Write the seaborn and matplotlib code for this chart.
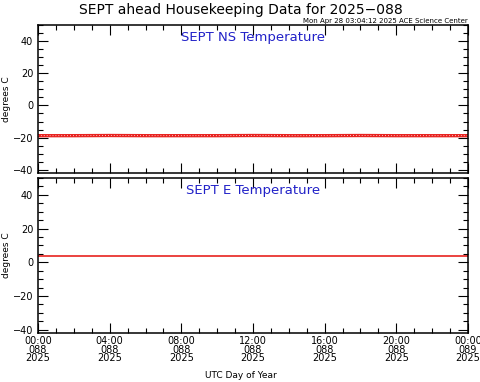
import matplotlib
matplotlib.use("Agg")
import matplotlib.pyplot as plt
import pandas as pd
import seaborn as sns
from matplotlib.ticker import MultipleLocator

# hours since 2025-088 00:00 UTC
hours = [0, 2, 4, 6, 8, 10, 12, 14, 16, 18, 20, 22, 24]
ns_temp = [-18.8, -18.8, -18.7, -18.8, -18.8, -18.8, -18.7, -18.8, -18.8, -18.7, -18.8, -18.8, -18.8]
e_temp = [3.5, 3.5, 3.5, 3.5, 3.5, 3.5, 3.5, 3.5, 3.5, 3.5, 3.5, 3.5, 3.5]

tick_hours = [0, 4, 8, 12, 16, 20, 24]
tick_labels = ["00:00\n088\n2025", "04:00\n088\n2025", "08:00\n088\n2025",
               "12:00\n088\n2025", "16:00\n088\n2025", "20:00\n088\n2025",
               "00:00\n089\n2025"]

panels = [("SEPT NS Temperature", ns_temp, 2.4), ("SEPT E Temperature", e_temp, 1.2)]

sns.set_style("ticks")
plt.rcParams["font.family"] = ["DejaVu Sans"]
plt.rcParams["text.color"] = "black"
plt.rcParams["axes.labelcolor"] = "black"

fig = plt.figure(figsize=(4.81, 3.82), dpi=100)
W, H = 481, 382
boxes = [(38, 25, 468, 173), (38, 178, 468, 333)]

for (title, vals, lw), (x0, y0, x1, y1) in zip(panels, boxes):
    ax = fig.add_axes([x0 / W, 1 - y1 / H, (x1 - x0) / W, (y1 - y0) / H])
    df = pd.DataFrame({"hour": hours, "temp": vals})
    sns.lineplot(data=df, x="hour", y="temp", ax=ax, color="#e8221f", linewidth=lw)
    if lw > 2:
        ax.plot(df["hour"], df["temp"], color="white", linewidth=0.6,
                linestyle=(0, (1, 2.5)))
    ax.set_xlim(0, 24)
    ax.set_ylim(-42, 50)
    ax.yaxis.set_major_locator(MultipleLocator(20))
    ax.yaxis.set_minor_locator(MultipleLocator(5))
    ax.xaxis.set_major_locator(MultipleLocator(4))
    ax.xaxis.set_minor_locator(MultipleLocator(1))
    ax.tick_params(which="both", direction="in", top=True, right=True,
                   labelsize=7, width=0.8, colors="black")
    ax.tick_params(which="major", length=7.5)
    ax.tick_params(which="minor", length=3.5)
    for s in ax.spines.values():
        s.set_linewidth(1.1)
        s.set_color("black")
    ax.set_ylabel("degrees C", fontsize=6.5, labelpad=1)
    ax.set_xlabel("")
    ax.text(0.5, 0.96, title, transform=ax.transAxes, ha="center", va="top",
            color="#2222c8", fontsize=9.5)
    if y1 == 333:
        ax.set_xticks(tick_hours)
        ax.set_xticklabels(tick_labels, linespacing=0.85)
        ax.tick_params(axis="x", pad=2)
    else:
        ax.set_xticklabels([])

fig.text(0.5, 1 - 10 / H, "SEPT ahead Housekeeping Data for 2025\u2212088",
         ha="center", va="center", fontsize=10)
fig.text(468 / W, 1 - 20.5 / H, "Mon Apr 28 03:04:12 2025 ACE Science Center",
         ha="right", va="center", fontsize=5)
fig.text(0.5, 1 - 376 / H, "UTC Day of Year", ha="center", va="center", fontsize=6.5)

fig.savefig("out.png", dpi=100, facecolor="white")
